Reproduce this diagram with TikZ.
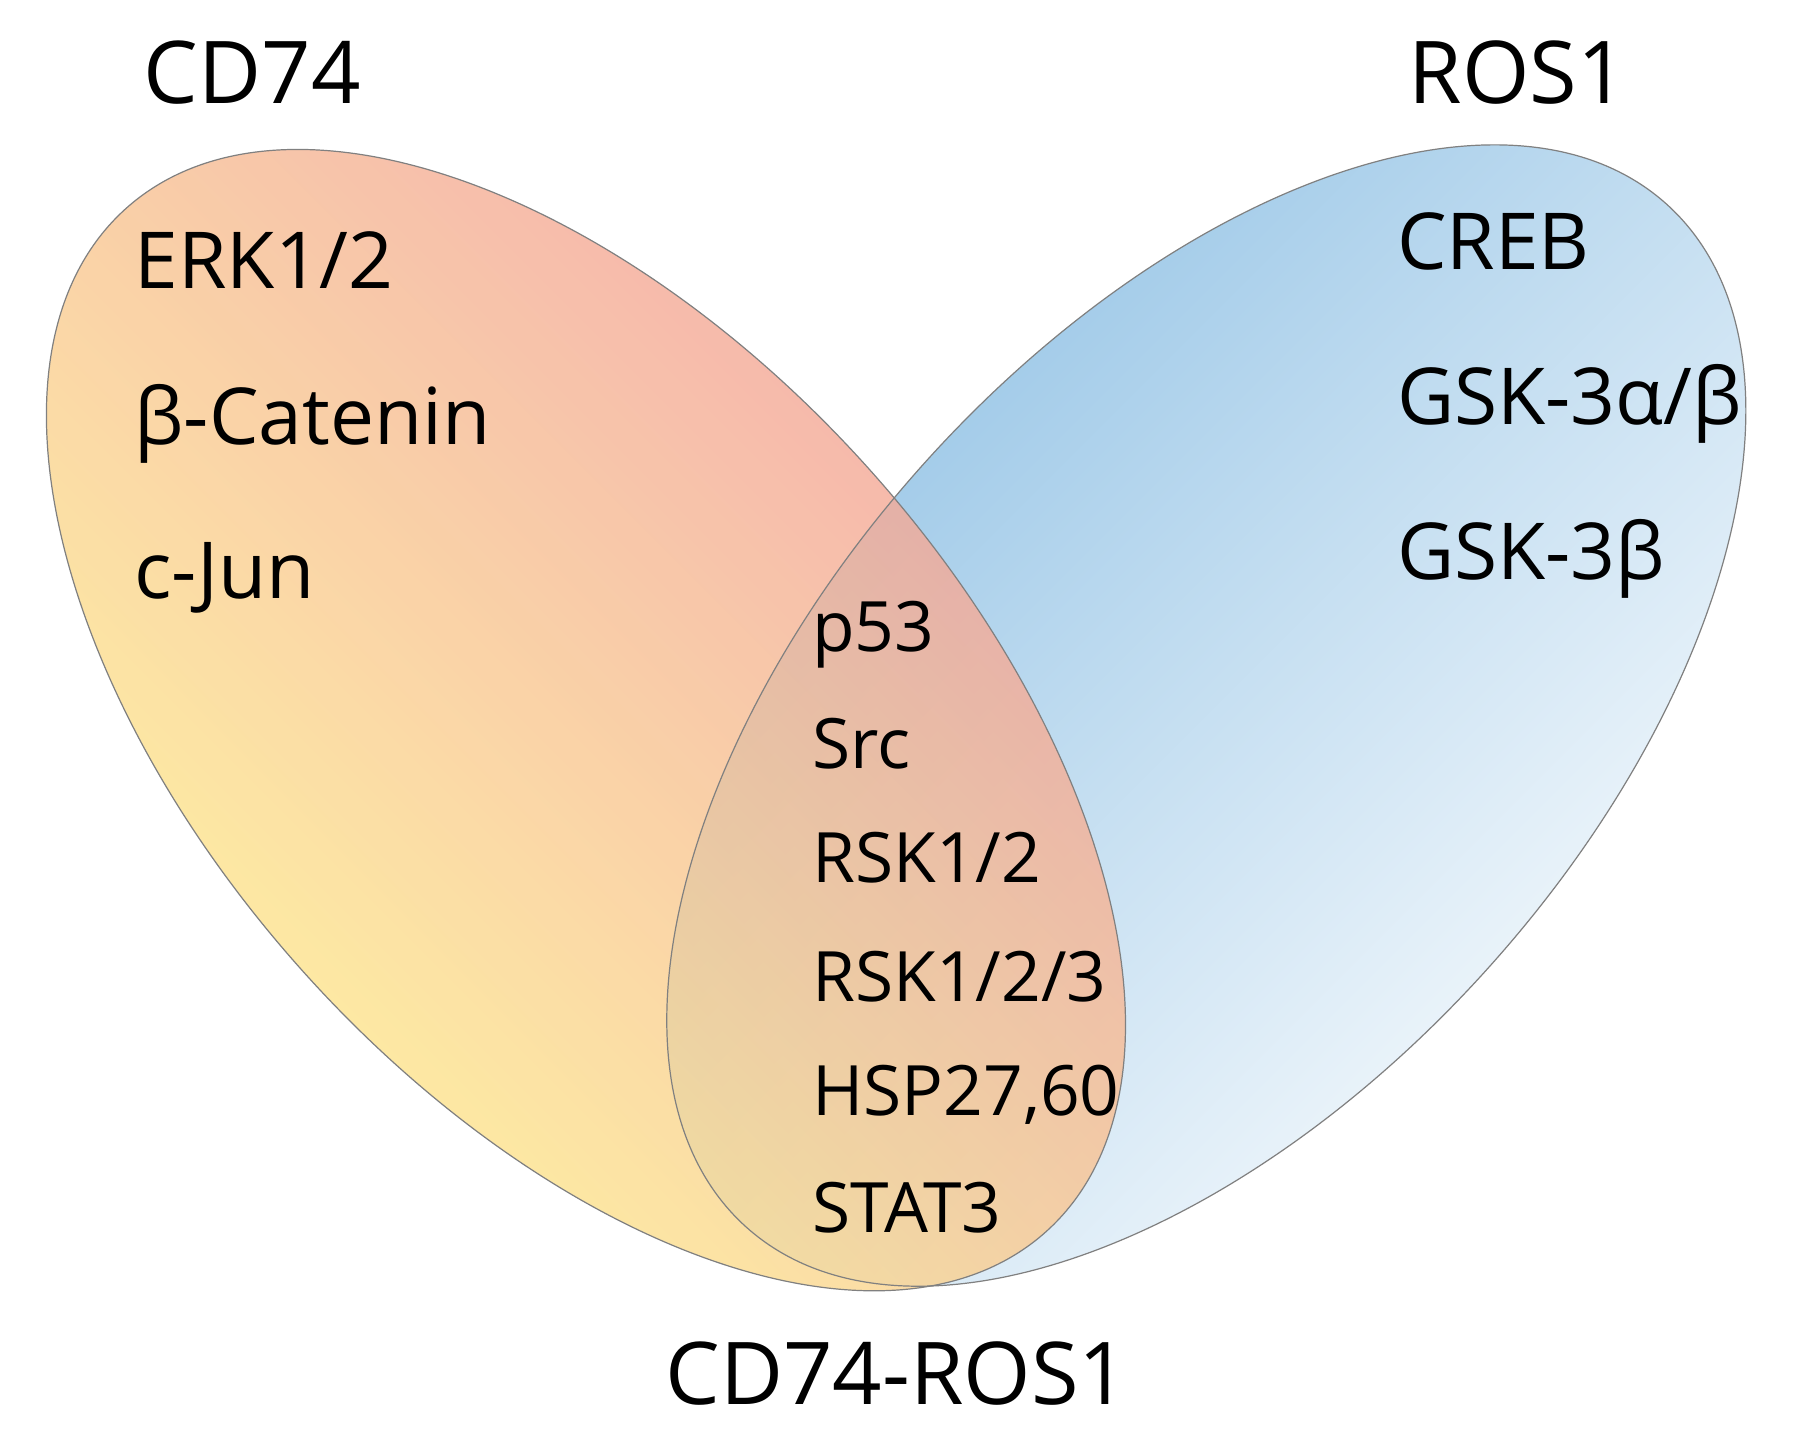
\documentclass[tikz,border=0pt]{standalone}
\usepackage{fontspec}
\setmainfont{Open Sans}
\definecolor{cyel}{HTML}{FFF28A}
\definecolor{cora}{HTML}{F8C28F}
\definecolor{cpink}{HTML}{F29A9A}
\definecolor{cblue}{HTML}{8EC0E4}
\begin{document}
\begin{tikzpicture}[x=0.02cm,y=-0.02cm,
  big/.style={anchor=base west,inner sep=0,font=\fontsize{43}{50}\selectfont},
  mid/.style={anchor=base west,inner sep=0,font=\fontsize{39}{46}\selectfont},
  sml/.style={anchor=base west,inner sep=0,font=\fontsize{34.5}{42}\selectfont}]
\useasboundingbox[fill=white] (0,0) rectangle (1568,1254);
\begin{scope}[shift={(1052,624)},rotate=48]
\shade[top color=cblue,bottom color=white,shading angle=45] (0,0) ellipse (600 and 330);
\end{scope}
\begin{scope}[shift={(511,628)},rotate=-48]
\shade[top color=cyel,middle color=cora,bottom color=cpink,shading angle=135,fill opacity=0.8] (0,0) ellipse (600 and 330);
\draw[gray,line width=0.6pt] (0,0) ellipse (600 and 330);
\end{scope}
\begin{scope}[shift={(1052,624)},rotate=48]
\draw[gray,line width=0.6pt] (0,0) ellipse (600 and 330);
\end{scope}
\node[big] (t1) at (125,90) {CD74};
\node[big] (t2) at (1228,90) {ROS1};
\node[big] (t3) at (580,1225) {CD74-ROS1};
\node[mid] (a1) at (117,252) {ERK1/2};
\node[mid] (a2) at (117,388) {β-Catenin};
\node[mid] (a3) at (117,522) {c-Jun};
\node[mid] (b1) at (1218,235) {CREB};
\node[mid] (b2) at (1218,370) {GSK-3α/β};
\node[mid] (b3) at (1218,505) {GSK-3β};
\node[sml] (c1) at (708,568) {p53};
\node[sml] (c2) at (708,670) {Src};
\node[sml] (c3) at (708,770) {RSK1/2};
\node[sml] (c4) at (708,873) {RSK1/2/3};
\node[sml] (c5) at (708,973) {HSP27,60};
\node[sml] (c6) at (708,1075) {STAT3};
\end{tikzpicture}
\end{document}
